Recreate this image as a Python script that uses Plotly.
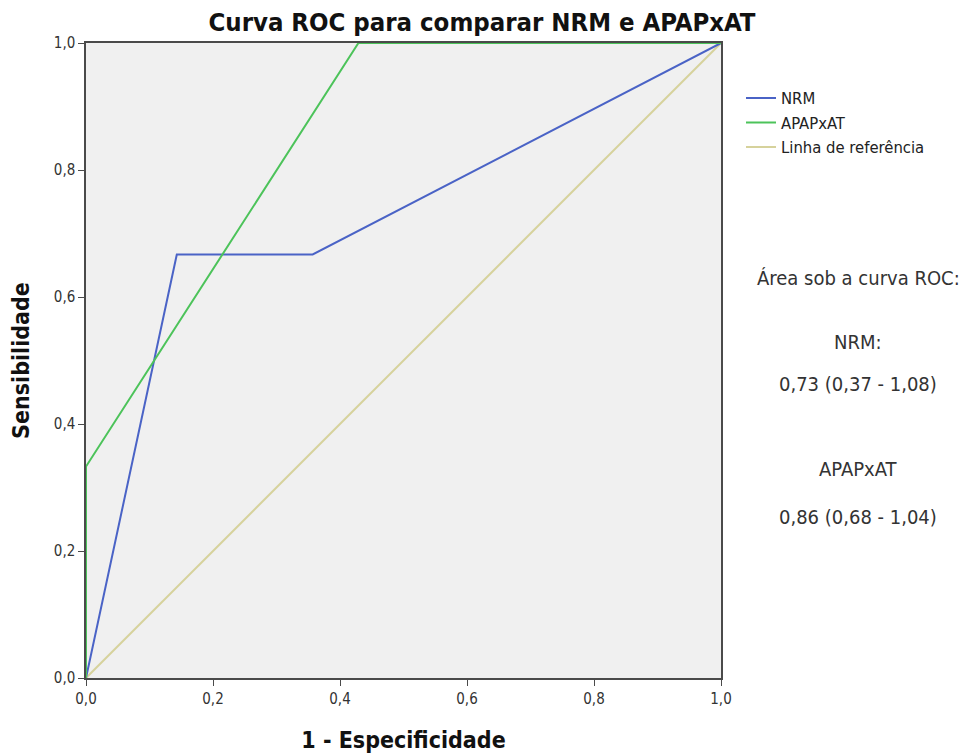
import plotly.graph_objects as go

nrm_x = [0.0, 0.143, 0.357, 1.0]
nrm_y = [0.0, 0.667, 0.667, 1.0]
apa_x = [0.0, 0.0, 0.429, 1.0]
apa_y = [0.0, 0.333, 1.0, 1.0]
ref_x = [0.0, 1.0]
ref_y = [0.0, 1.0]
tick_vals = [0.0, 0.2, 0.4, 0.6, 0.8, 1.0]

NARROW = "DejaVu Sans Condensed, Liberation Sans Narrow, Arial"

fig = go.Figure()
fig.add_trace(go.Scatter(x=ref_x, y=ref_y, mode="lines", name="Linha de referência",
                         line=dict(color="#D6D29C", width=2), legendrank=3))
fig.add_trace(go.Scatter(x=nrm_x, y=nrm_y, mode="lines", name="NRM",
                         line=dict(color="#4A63C6", width=2), legendrank=1))
fig.add_trace(go.Scatter(x=apa_x, y=apa_y, mode="lines", name="APAPxAT",
                         line=dict(color="#4CC35A", width=2), legendrank=2))

axis_common = dict(range=[0, 1], tickvals=tick_vals, tickformat=".1f", automargin=False,
                   showgrid=False, zeroline=False, showline=True, mirror=True,
                   linecolor="#4a4a4a", linewidth=1.5, ticks="outside", ticklen=6,
                   tickcolor="#4a4a4a", tickfont=dict(family=NARROW, size=15, color="#333"))

fig.update_layout(
    width=968, height=745,
    margin=dict(l=78, r=255, t=35, b=75),
    paper_bgcolor="white", plot_bgcolor="#F0F0F0",
    separators=",.",
    title=dict(text="<b>Curva ROC para comparar NRM e APAPxAT</b>", x=(482 - 8) / 968, xanchor="center",
               xref="container", y=1 - 14 / 745, yanchor="middle",
               font=dict(family=NARROW, size=25.5, color="#111")),
    xaxis=dict(**axis_common,
               title=dict(text="<b>1 - Especificidade</b>", standoff=37,
                          font=dict(family=NARROW, size=23, color="#111"))),
    yaxis=dict(**axis_common,
               title=dict(text="<b>Sensibilidade</b>", standoff=24,
                          font=dict(family=NARROW, size=23, color="#111"))),
    legend=dict(x=1.0315, y=0.9405, xanchor="left", yanchor="top", itemwidth=30,
                bgcolor="rgba(0,0,0,0)", tracegroupgap=0,
                font=dict(family=NARROW, size=16.5, color="#222")),
    showlegend=True,
)

texts = [("Área sob a curva ROC:", 278), ("NRM:", 342), ("0,73 (0,37 - 1,08)", 384),
         ("APAPxAT", 469), ("0,86 (0,68 - 1,04)", 517)]
for t, ypx in texts:
    yp = (678 - ypx) / 635
    fig.add_annotation(text=t, x=(858 - 86) / 635, y=yp, xref="paper", yref="paper",
                       showarrow=False, xanchor="center", yanchor="middle",
                       font=dict(family=NARROW, size=20, color="#333"))

fig.write_html("out.html")
